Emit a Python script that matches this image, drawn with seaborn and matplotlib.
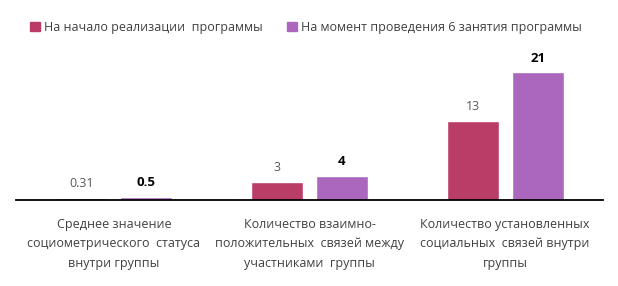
import numpy as np
import pandas as pd
import matplotlib
matplotlib.use('Agg')
import matplotlib.pyplot as plt
import seaborn as sns

##################################################################
categories = ['Среднее значение\nсоциометрического  статуса\nвнутри группы',
              'Количество взаимно-\nположительных  связей между\nучастниками  группы',
              'Количество установленных\nсоциальных  связей внутри\nгруппы']
series = ['На начало реализации  программы',
          'На момент проведения 6 занятия программы']
start_vals = [0.31, 3, 13]
session6_vals = [0.5, 4, 21]
start_labels = ['0.31', '3', '13']
session6_labels = ['0.5', '4', '21']
colors = ['#B93D66', '#AB66BD']
##################################################################

df = pd.DataFrame({
    'Category': categories * 2,
    'Series': [series[0]] * 3 + [series[1]] * 3,
    'Value': start_vals + session6_vals,
})

sns.set_style('white')
plt.rcParams['font.family'] = ['Open Sans', 'DejaVu Sans']

fig = plt.figure(figsize=[6.18, 2.86], dpi=100)
ax = fig.add_axes([16 / 618, 0.301, 587 / 618, 0.489])

sns.barplot(data=df, x='Category', y='Value', hue='Series', order=categories,
            hue_order=series, palette=colors, width=0.664, gap=0.2,
            saturation=1, ax=ax, legend=False)

############################################################################
fz = 9
for container, labels, col, wt, sz in zip(ax.containers, [start_labels, session6_labels],
                                          ['#595959', '#000000'], ['normal', 'bold'], [9, 9.5]):
    for bar, lab in zip(container, labels):
        ax.annotate(lab, (bar.get_x() + bar.get_width() / 2, bar.get_height()),
                    xytext=(0, 5.5), textcoords='offset points', ha='center', va='bottom',
                    fontsize=sz, color=col, fontweight=wt)

ax.set_ylim(0, 23)
ax.set_xlim(-0.5, 2.5)
ax.set_yticks([])
ax.set_xlabel('')
ax.set_ylabel('')
for s in ['top', 'right', 'left']:
    ax.spines[s].set_visible(False)
ax.spines['bottom'].set_color('black')
ax.spines['bottom'].set_linewidth(1.3)
ax.tick_params(axis='x', length=0, pad=13, labelsize=fz, labelcolor='#404040')
for t in ax.get_xticklabels():
    t.set_linespacing(1.65)

handles = [plt.Rectangle((0, 0), 1, 1, color=c) for c in colors]
fig.legend(handles, series, loc='center', bbox_to_anchor=(0.495, 0.905), ncol=2,
           frameon=False, fontsize=fz, handlelength=0.8, handleheight=0.8,
           handletextpad=0.3, columnspacing=2.0, labelcolor='#404040')

plt.savefig('out.png', dpi=100)
